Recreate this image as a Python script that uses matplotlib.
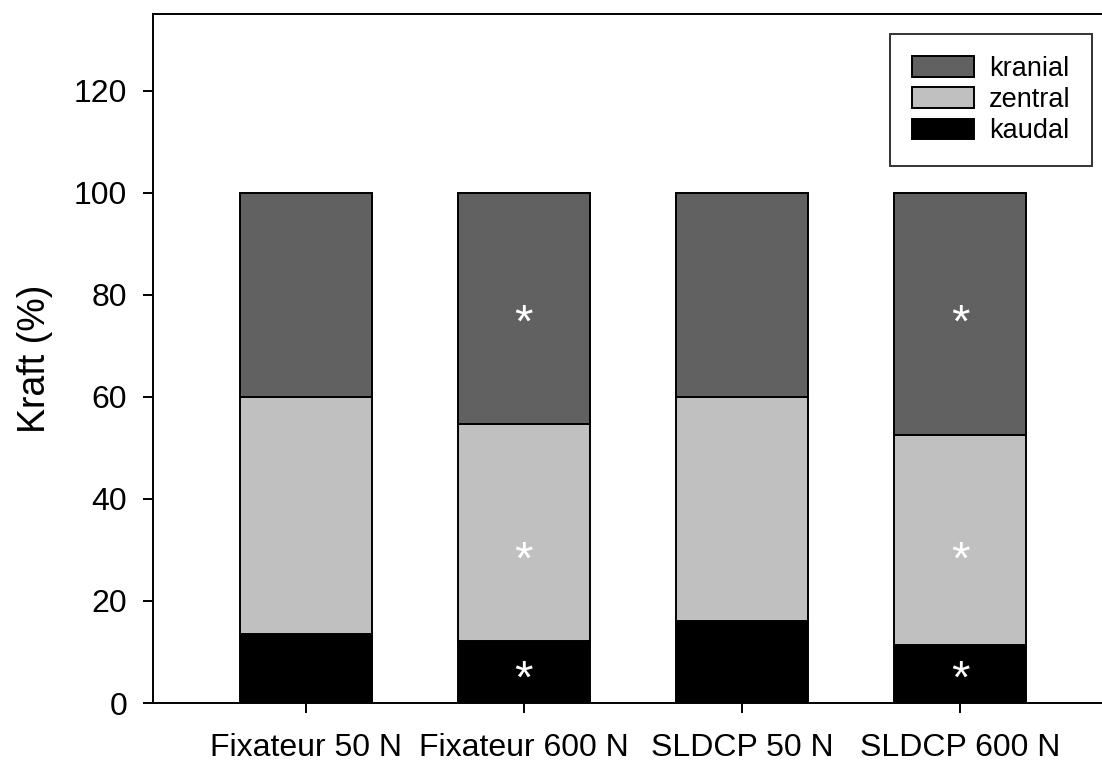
import matplotlib.pyplot as plt
import numpy as np

plt.rcParams['font.family'] = ['Liberation Sans', 'DejaVu Sans']

groups = ['Fixateur 50 N', 'Fixateur 600 N', 'SLDCP 50 N', 'SLDCP 600 N']
kaudal = [13.5, 12.2, 16.1, 11.4]
zentral = [46.4, 42.4, 43.8, 41.1]
kranial = [40.1, 45.4, 40.1, 47.5]

# significance stars: bar index and y position (data units)
star_bars = [1, 1, 1, 3, 3, 3]
star_y = [6.1, 29.4, 75.9, 6.1, 29.4, 75.9]

x = np.arange(len(groups))
w = 0.605

fig = plt.figure(figsize=(11.02, 7.62), dpi=100)
ax = fig.add_axes([0.1388, 0.0774, 0.8612, 0.9042])

b1 = ax.bar(x, kaudal, w, color='black', edgecolor='black', linewidth=1.4, label='kaudal')
b2 = ax.bar(x, zentral, w, bottom=kaudal, color='#c0c0c0', edgecolor='black',
            linewidth=1.4, label='zentral')
bot2 = np.array(kaudal) + np.array(zentral)
b3 = ax.bar(x, kranial, w, bottom=bot2, color='#616161', edgecolor='black',
            linewidth=1.4, label='kranial')

for i, y in zip(star_bars, star_y):
    ax.annotate('*', (x[i], y), xytext=(0, -6.5), textcoords='offset points',
                ha='center', va='center', color='white', fontsize=34)

ax.set_xlim(-0.70, 3.65)
ax.set_ylim(0, 135)
ax.set_yticks([0, 20, 40, 60, 80, 100, 120])
ax.set_xticks(x)
ax.set_xticklabels(groups)
ax.tick_params(axis='both', direction='out', length=7.5, width=1.4,
               labelsize=23, pad=11)
ax.tick_params(axis='x', pad=14)
ax.spines['right'].set_visible(False)
for s in ['left', 'top', 'bottom']:
    ax.spines[s].set_linewidth(1.4)

ax.set_ylabel('Kraft (%)', fontsize=27)
ax.yaxis.set_label_coords(-0.105, 0.5)

leg = ax.legend(handles=[b3, b2, b1], labels=['kranial', 'zentral', 'kaudal'],
                loc='upper right', bbox_to_anchor=(0.991, 0.9554),
                bbox_transform=fig.transFigure, fontsize=19.5, frameon=True,
                fancybox=False, edgecolor='black', handlelength=2.3,
                handleheight=0.8, handletextpad=0.55, labelspacing=0.2,
                borderpad=0.8, borderaxespad=0)
leg.get_frame().set_linewidth(1.4)

fig.savefig('out.png', dpi=100)
